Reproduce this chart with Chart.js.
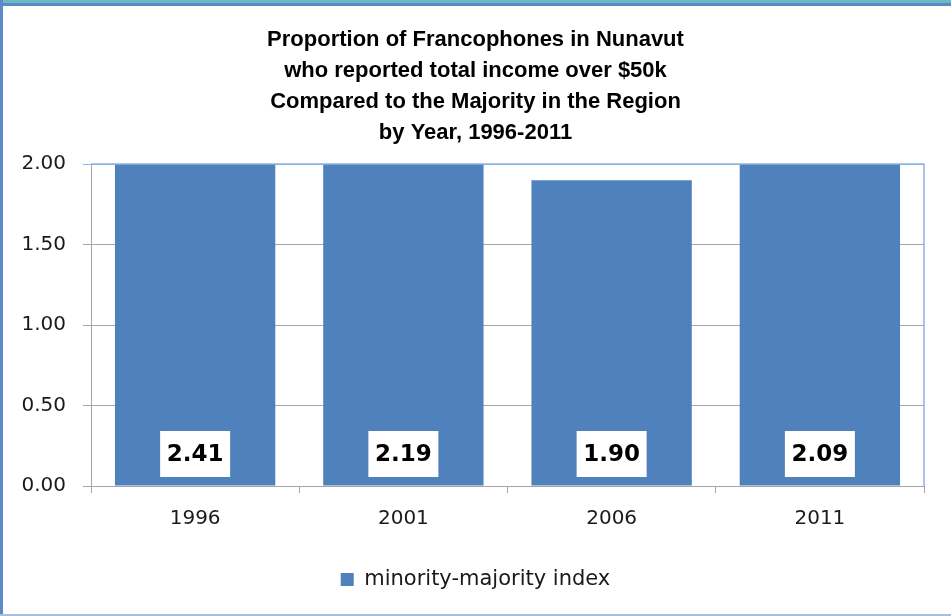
<!DOCTYPE html>
<html>
<head>
<meta charset="utf-8">
<script src="https://cdn.jsdelivr.net/npm/chart.js@4.4.0/dist/chart.umd.min.js"></script>
<style>
  html, body { margin: 0; padding: 0; background: #fff; }
  #wrap { position: relative; width: 951px; height: 616px; }
</style>
</head>
<body>
<div id="wrap"><canvas id="chart" width="951" height="616"></canvas></div>
<script>
const years = ['1996', '2001', '2006', '2011'];
const indexValues = [2.41, 2.19, 1.90, 2.09];
const yTicks = [0, 0.5, 1.0, 1.5, 2.0];
const titleLines = [
    'Proportion of Francophones in Nunavut',
    'who reported total income over $50k',
    'Compared to the Majority in the Region',
    'by Year, 1996-2011'
];
const seriesName = 'minority-majority index';

const BAR_BLUE = '#4f81bd';
const GRID_GRAY = '#a6a6a6';
const PLOT_EDGE = '#8db3e2';
const FONT = "'DejaVu Sans', sans-serif";

// page frame: teal/blue strip on top, blue on the left, pale blue at the bottom
const framePlugin = {
    id: 'frame',
    beforeDraw(chart) {
        const ctx = chart.ctx;
        ctx.save();
        ctx.fillStyle = '#ffffff';
        ctx.fillRect(0, 0, chart.width, chart.height);
        ctx.fillStyle = '#6db8c1';
        ctx.fillRect(0, 0, chart.width, 3);
        ctx.fillStyle = '#5a8bc8';
        ctx.fillRect(0, 3, chart.width, 3);
        ctx.fillRect(0, 0, 3, chart.height);
        ctx.fillStyle = '#a9bedb';
        ctx.fillRect(0, chart.height - 2, chart.width, 2);
        ctx.restore();
    },
    afterDatasetsDraw(chart) {
        // top and right edges of the plot area
        const a = chart.chartArea;
        const ctx = chart.ctx;
        ctx.save();
        ctx.strokeStyle = PLOT_EDGE;
        ctx.lineWidth = 1.5;
        ctx.beginPath();
        ctx.moveTo(a.left, a.top);
        ctx.lineTo(a.right, a.top);
        ctx.lineTo(a.right, a.bottom);
        ctx.stroke();
        ctx.restore();
    }
};

// value boxes near the foot of each bar
const valueBoxes = {
    id: 'valueBoxes',
    afterDatasetsDraw(chart) {
        const ctx = chart.ctx;
        const meta = chart.getDatasetMeta(0);
        const bottom = chart.chartArea.bottom;
        ctx.save();
        ctx.font = 'bold 23px ' + FONT;
        ctx.textAlign = 'center';
        ctx.textBaseline = 'middle';
        meta.data.forEach((bar, i) => {
            const txt = indexValues[i].toFixed(2);
            const w = 70, h = 46;
            const cy = bottom - 9 - h / 2;
            ctx.fillStyle = '#ffffff';
            ctx.fillRect(bar.x - w / 2, cy - h / 2, w, h);
            ctx.fillStyle = '#000000';
            ctx.fillText(txt, bar.x, cy + 1);
        });
        ctx.restore();
    }
};

new Chart(document.getElementById('chart'), {
    type: 'bar',
    data: {
        labels: years,
        datasets: [{
            label: seriesName,
            data: indexValues,
            yAxisID: 'y',
            backgroundColor: BAR_BLUE,
            borderWidth: 0,
            categoryPercentage: 1.0,
            barPercentage: 0.77
        }]
    },
    options: {
        responsive: false,
        animation: false,
        layout: { padding: { top: 0, right: 0, bottom: 16, left: 0 } },
        plugins: {
            title: {
                display: true,
                text: titleLines,
                color: '#000000',
                font: { family: "'Liberation Sans', Arial, sans-serif", size: 22, weight: 'bold', lineHeight: 1.41 },
                padding: { top: 24, bottom: 16 }
            },
            legend: {
                position: 'bottom',
                labels: {
                    color: '#1a1a1a',
                    font: { family: FONT, size: 21 },
                    boxWidth: 13,
                    boxHeight: 13,
                    padding: 24
                }
            },
            tooltip: { enabled: false }
        },
        scales: {
            x: {
                grid: {
                    offset: true,
                    drawOnChartArea: false,
                    tickLength: 7,
                    color: GRID_GRAY
                },
                border: { color: GRID_GRAY },
                ticks: {
                    color: '#1a1a1a',
                    font: { family: FONT, size: 20 },
                    padding: 14
                }
            },
            y: {
                min: 0,
                max: 2,
                afterBuildTicks(scale) {
                    scale.ticks = yTicks.map(v => ({ value: v }));
                },
                afterFit(scale) {
                    scale.width = 91;
                },
                grid: {
                    color: ctx => (ctx.tick && ctx.tick.value === 2 ? PLOT_EDGE : GRID_GRAY),
                    tickLength: 8
                },
                border: { color: GRID_GRAY },
                ticks: {
                    color: '#1a1a1a',
                    font: { family: FONT, size: 20 },
                    padding: 17,
                    callback: v => Number(v).toFixed(2)
                }
            },
            // empty strip on the right so the title stays centred on the page
            yRight: {
                position: 'right',
                afterFit(scale) {
                    scale.width = 27;
                },
                grid: { display: false },
                border: { display: false },
                ticks: { display: false }
            }
        }
    },
    plugins: [framePlugin, valueBoxes]
});
</script>
</body>
</html>
